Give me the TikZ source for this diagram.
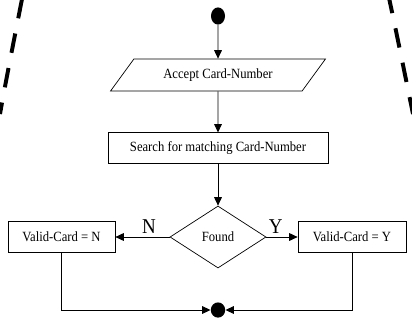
\documentclass[tikz,border=0pt]{standalone}
\usepackage{fontspec}
\setmainfont{Liberation Serif}[FakeStretch=0.9]
\usetikzlibrary{shapes.geometric, arrows.meta, positioning}

\begin{document}
\begin{tikzpicture}[x=0.025cm, y=-0.025cm,
    box/.style={draw, line width=0.5pt, minimum height=0.76cm, inner sep=2pt,
                font=\fontsize{10}{12}\selectfont},
    inputbox/.style={draw, line width=0.5pt, trapezium, trapezium left angle=45,
                trapezium right angle=135, trapezium stretches,
                minimum width=5.375cm, minimum height=0.8cm, inner sep=1pt,
                font=\fontsize{10}{12}\selectfont},
    decision/.style={draw, line width=0.5pt, diamond, minimum width=2.4cm,
                minimum height=1.55cm, inner sep=0pt, font=\fontsize{10}{12}\selectfont},
    dot/.style={fill, ellipse, minimum width=0.35cm, minimum height=0.43cm, inner sep=0pt},
    flow/.style={line width=0.6pt, -{Triangle[length=6pt, width=5.5pt]}},
    branch/.style={font=\fontsize{15}{17}\selectfont}
]
    \useasboundingbox (0,0) rectangle (412,328);

    % dashed outline
    \draw[line width=2.8pt, dash pattern=on 14pt off 11pt]
        (22,-1) .. controls (14,40) and (6,80) .. (0,114);
    \draw[line width=2.8pt, dash pattern=on 14pt off 11pt, dash phase=3pt]
        (389,-2) .. controls (397,35) and (405,75) .. (413,114);

    % flow
    \node[dot] (start) at (218,16) {};
    \node[inputbox] (accept) at (218,75) {Accept Card-Number};
    \node[box, minimum width=5.5cm] (search) at (218,148) {Search for matching Card-Number};
    \node[decision] (found) at (218,237) {Found};
    \node[box, minimum width=2.675cm] (novalid) at (61.5,237) {Valid-Card = N};
    \node[box, minimum width=2.7cm] (yesvalid) at (352,237) {Valid-Card = Y};
    \node[dot, minimum width=0.36cm, minimum height=0.38cm] (stop) at (218,310) {};

    \draw[flow] (start) -- (accept);
    \draw[flow] (accept) -- (search);
    \draw[flow] (search) -- (found);
    \draw[flow] (found) -- node[branch, above=-1pt, pos=0.38] {N} (novalid);
    \draw[flow] (found) -- node[branch, above=-1pt, pos=0.3] {Y} (yesvalid);
    \draw[flow] (novalid.south) |- (stop);
    \draw[flow] (yesvalid.south) |- (stop);
\end{tikzpicture}
\end{document}
